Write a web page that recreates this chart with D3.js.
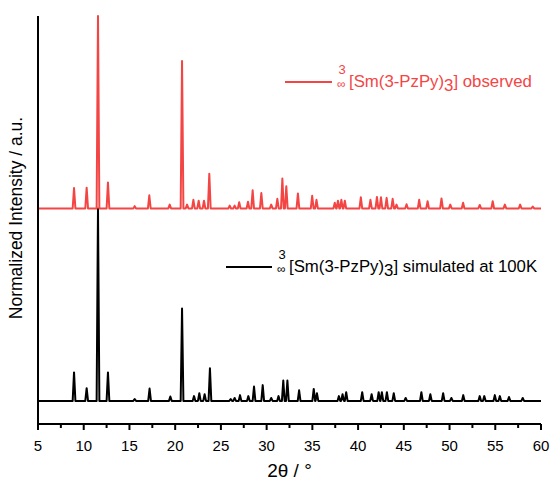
<!DOCTYPE html>
<html>
<head>
<meta charset="utf-8">
<script src="https://cdn.jsdelivr.net/npm/d3@7"></script>
<style>
  body { margin: 0; background: #fff; }
  text { font-family: "Liberation Sans", Arial, sans-serif; }
</style>
</head>
<body>
<svg id="chart" width="550" height="484"></svg>
<script>
// peak positions (2theta, deg) and normalized heights
var obsPos = [8.94, 10.32, 11.56, 12.65, 15.57, 17.17, 19.4, 20.75, 21.3, 21.99, 22.57, 23.15, 23.73,
  25.96, 26.5, 27.0, 27.96, 28.47, 29.42, 30.5, 31.17, 31.72, 32.15, 33.42, 34.98, 35.45,
  37.45, 37.8, 38.17, 38.55, 40.3, 41.35, 42.06, 42.5, 43.12, 43.78, 44.2, 45.3, 46.68, 47.6,
  49.12, 50.08, 51.48, 53.3, 54.72, 56.05, 57.72, 59.1];
var obsVal = [0.106, 0.108, 1.0, 0.135, 0.012, 0.068, 0.02, 0.766, 0.02, 0.045, 0.04, 0.04, 0.18,
  0.015, 0.015, 0.032, 0.035, 0.094, 0.08, 0.02, 0.05, 0.155, 0.115, 0.078, 0.066, 0.045,
  0.03, 0.04, 0.045, 0.04, 0.058, 0.045, 0.06, 0.058, 0.055, 0.05, 0.02, 0.022, 0.045, 0.038,
  0.052, 0.02, 0.03, 0.018, 0.038, 0.02, 0.02, 0.01];

var simPos = [8.94, 10.32, 11.56, 12.65, 15.57, 17.2, 19.47, 20.75, 22.06, 22.64, 23.22, 23.8,
  26.07, 26.5, 27.09, 28.0, 28.62, 29.57, 30.5, 31.3, 31.82, 32.27, 33.55, 35.15, 35.5,
  37.9, 38.3, 38.7, 40.45, 41.48, 42.25, 42.6, 43.15, 43.9, 45.2, 46.92, 47.9, 49.3, 50.2,
  51.5, 53.3, 53.8, 54.95, 55.5, 56.5, 58.0];
var simVal = [0.148, 0.066, 1.0, 0.148, 0.01, 0.064, 0.023, 0.48, 0.025, 0.04, 0.035, 0.17,
  0.01, 0.015, 0.03, 0.025, 0.075, 0.082, 0.015, 0.025, 0.106, 0.106, 0.055, 0.062, 0.04,
  0.025, 0.035, 0.045, 0.045, 0.035, 0.045, 0.045, 0.045, 0.04, 0.015, 0.045, 0.035, 0.04, 0.015,
  0.03, 0.025, 0.025, 0.03, 0.025, 0.02, 0.015];

var obsOffset = 1.0;
var xTicks = [5, 10, 15, 20, 25, 30, 35, 40, 45, 50, 55, 60];

var svg = d3.select("#chart"),
    margin = {top: 16, right: 9, bottom: 60, left: 38},
    width = +svg.attr("width") - margin.left - margin.right,
    height = +svg.attr("height") - margin.top - margin.bottom;

var x = d3.scaleLinear().domain([5, 60]).range([0, width]);
var y = d3.scaleLinear().domain([-0.12, 2.0]).range([height, 0]);

var g = svg.append("g")
    .attr("transform", "translate(" + margin.left + "," + margin.top + ")");

// turn a peak list into a stick-like profile
function profile(pos, val, offset) {
  var hw = 0.15;
  var pts = [[5, offset]];
  pos.forEach(function(p, i) {
    pts.push([p - hw, offset], [p, offset + val[i]], [p + hw, offset]);
  });
  pts.push([60, offset]);
  return pts;
}

var line = d3.line()
    .x(function(d) { return x(d[0]); })
    .y(function(d) { return y(d[1]); });

g.append("path")
    .datum(profile(simPos, simVal, 0))
    .attr("fill", "none")
    .attr("stroke", "#000")
    .attr("stroke-width", 2)
    .attr("stroke-linejoin", "round")
    .attr("d", line);

g.append("path")
    .datum(profile(obsPos, obsVal, obsOffset))
    .attr("fill", "none")
    .attr("stroke", "#f44545")
    .attr("stroke-width", 2)
    .attr("stroke-linejoin", "round")
    .attr("d", line);

// x axis with minor ticks
var minor = d3.range(7.5, 60, 5);
var xAxis = g.append("g").attr("transform", "translate(0," + height + ")");
xAxis.append("line")
    .attr("x1", 0).attr("x2", width)
    .attr("stroke", "#000").attr("stroke-width", 2);
xAxis.selectAll(".major").data(xTicks).enter().append("line")
    .attr("x1", function(d) { return x(d); })
    .attr("x2", function(d) { return x(d); })
    .attr("y1", 0).attr("y2", 6)
    .attr("stroke", "#000").attr("stroke-width", 2);
xAxis.selectAll(".minor").data(minor).enter().append("line")
    .attr("x1", function(d) { return x(d); })
    .attr("x2", function(d) { return x(d); })
    .attr("y1", 0).attr("y2", 4)
    .attr("stroke", "#000").attr("stroke-width", 2);
xAxis.selectAll(".lbl").data(xTicks).enter().append("text")
    .attr("x", function(d) { return x(d); })
    .attr("y", 27)
    .attr("text-anchor", "middle")
    .style("font-size", "15px")
    .text(function(d) { return d; });

g.append("text")
    .attr("x", width / 2)
    .attr("y", height + 53)
    .attr("text-anchor", "middle")
    .style("font-size", "19px")
    .text("2θ / °");

// y axis line only
g.append("line")
    .attr("x1", 0).attr("x2", 0)
    .attr("y1", 0).attr("y2", height)
    .attr("stroke", "#000").attr("stroke-width", 2);

svg.append("text")
    .attr("transform", "translate(22," + 218 + ") rotate(-90)")
    .attr("text-anchor", "middle")
    .style("font-size", "17.5px")
    .text("Normalized Intensity / a.u.");

// legends
function legend(x0, x1, yy, color, rest) {
  svg.append("line")
      .attr("x1", x0).attr("x2", x1)
      .attr("y1", yy).attr("y2", yy)
      .attr("stroke", color).attr("stroke-width", 2);
  var tx = x1 + 5;
  svg.append("text").attr("x", tx + 1.5).attr("y", yy - 8)
      .style("font-size", "13px").attr("fill", color).text("3");
  svg.append("text").attr("x", tx).attr("y", yy + 6)
      .style("font-size", "12px").attr("fill", color).text("∞");
  var t = svg.append("text").attr("x", tx + 12).attr("y", yy + 5)
      .style("font-size", "16.8px").attr("fill", color);
  t.append("tspan").text("[Sm(3-PzPy)");
  t.append("tspan").attr("dy", 4).text("3");
  t.append("tspan").attr("dy", -4).text("] " + rest);
}
legend(285, 332, 82, "#f44545", "observed");
legend(226, 272, 267, "#000", "simulated at 100K");
</script>
</body>
</html>
